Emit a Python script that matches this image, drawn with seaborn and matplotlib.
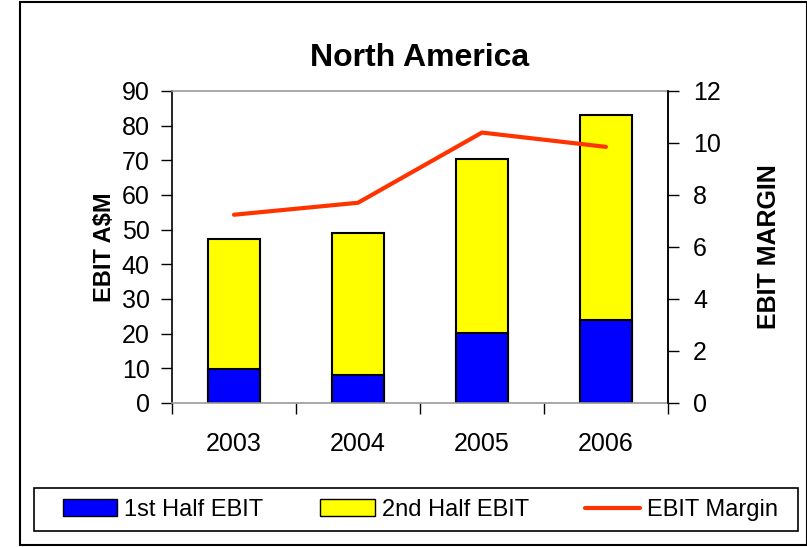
import numpy as np
import pandas as pd
import matplotlib.pyplot as plt
import matplotlib.patches as mpatches
from matplotlib.lines import Line2D
import seaborn as sns

# values
years = ["2003", "2004", "2005", "2006"]
first_half = [9.9, 8.2, 20.2, 23.8]
total_ebit = [47.3, 49.0, 70.4, 83.2]
ebit_margin = [7.24, 7.70, 10.40, 9.85]

df = pd.DataFrame({"year": years, "first": first_half, "total": total_ebit, "margin": ebit_margin})

sns.set_style("white")
plt.rcParams['font.family'] = ['Liberation Sans', 'DejaVu Sans']
plt.rcParams['text.color'] = 'black'
plt.rcParams['axes.labelcolor'] = 'black'
plt.rcParams['xtick.color'] = 'black'
plt.rcParams['ytick.color'] = 'black'

fig = plt.figure(figsize=(8.07, 5.47), dpi=100)
ax = fig.add_axes([0.2131, 0.2633, 0.6146, 0.5704])

blue = "#0000FF"
yellow = "#FFFF00"
red = "#FF3300"

sns.barplot(data=df, x="year", y="total", color=yellow, width=0.42, edgecolor="black",
            linewidth=1.5, saturation=1, ax=ax)
sns.barplot(data=df, x="year", y="first", color=blue, width=0.42, edgecolor="black",
            linewidth=1.5, saturation=1, ax=ax)

ax.set_xlim(-0.5, 3.5)
ax.set_ylim(0, 90)
ax.set_yticks(np.arange(0, 91, 10))
ax.tick_params(axis="y", labelsize=18, length=8, width=1, direction="out", left=True, pad=8)
ax.tick_params(axis="x", which="major", labelsize=18, length=0, pad=21)
ax.set_xticks([-0.5, 0.5, 1.5, 2.5, 3.5], minor=True)
ax.tick_params(axis="x", which="minor", length=8, width=1, direction="out", bottom=True)
ax.set_xlabel("")
ax.set_ylabel("EBIT A$M", fontsize=17, fontweight="bold", labelpad=4)

for side in ["left", "right", "top", "bottom"]:
    ax.spines[side].set_visible(True)
    ax.spines[side].set_linewidth(1.2)
ax.spines["left"].set_color("black")
ax.spines["top"].set_color("#999999")
ax.spines["bottom"].set_color("#999999")

ax2 = ax.twinx()
sns.lineplot(data=df, x="year", y="margin", color=red, linewidth=3, ax=ax2, sort=False)
ax2.set_ylim(0, 12)
ax2.set_yticks(np.arange(0, 13, 2))
ax2.tick_params(axis="y", labelsize=18, length=8, width=1, direction="out", right=True, pad=10)
ax2.set_ylabel("EBIT MARGIN", fontsize=18, fontweight="bold", labelpad=26)
ax2.spines["right"].set_color("black")
ax2.spines["right"].set_linewidth(1.2)
ax2.spines["left"].set_visible(False)
ax2.spines["top"].set_visible(False)
ax2.spines["bottom"].set_visible(False)
ax2.set_xlabel("")

ax.set_title("North America", fontsize=23, fontweight="bold", pad=18)

handles = [
    mpatches.Patch(facecolor=blue, edgecolor="black", linewidth=1),
    mpatches.Patch(facecolor=yellow, edgecolor="black", linewidth=1),
    Line2D([0], [0], color=red, linewidth=3),
]
labels = ["1st Half EBIT", "2nd Half EBIT", "EBIT Margin"]
leg = fig.legend(handles, labels, ncol=3, loc="center",
                 bbox_to_anchor=(0.521, 0.0677),
                 fontsize=17, frameon=False,
                 handlelength=2.3, handleheight=0.75, handletextpad=0.3,
                 columnspacing=2.4)
# legend box
fig.patches.append(mpatches.Rectangle((34 / 807, 16 / 547), 764 / 807, 43 / 547,
                                      transform=fig.transFigure, fill=False,
                                      edgecolor="black", linewidth=1.2))

# outer chart border
fig.patches.append(mpatches.Rectangle((20 / 807, 2 / 547), 787 / 807, 543 / 547,
                                      transform=fig.transFigure, fill=False,
                                      edgecolor="black", linewidth=1.5))

fig.savefig("out.png", dpi=100)
